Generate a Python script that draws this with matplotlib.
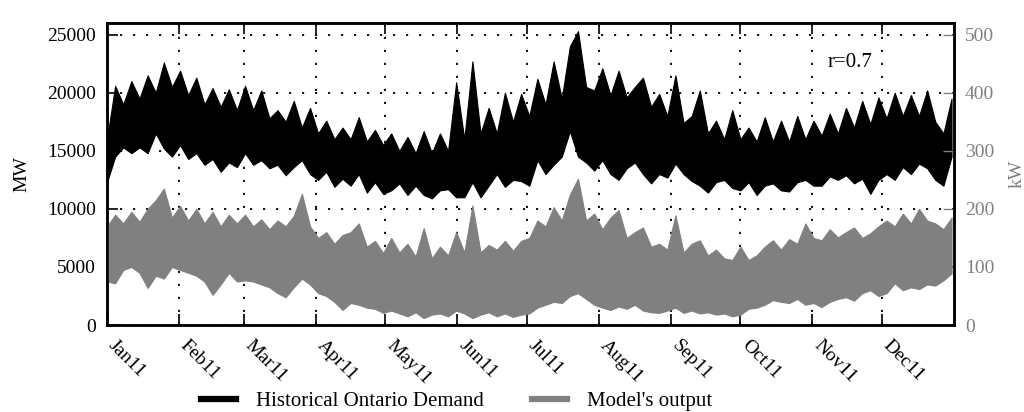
#!/usr/bin/env python
"""Ontario demand vs model output, 2011"""

import numpy as np
import pandas as pd
import matplotlib
matplotlib.use('Agg')
import matplotlib.pyplot as plt
import matplotlib.dates as mdates
import matplotlib.transforms as mtransforms
from matplotlib.lines import Line2D

plt.rcParams['font.family'] = ['Liberation Serif', 'DejaVu Serif']

# samples every 3.5 days through 2011 (one line per month)
times = pd.date_range('2011-01-01', periods=105, freq='84h')

# Historical Ontario demand, upper / lower envelope (MW)
demand_hi = [
    16000, 20600, 19000, 21000, 19500, 21500, 20000, 22600, 20500,
    21900, 19800, 21300, 19000, 20400, 18800, 20300, 18500,
    20600, 18500, 20200, 17800, 18500, 17500, 19300, 17000, 18700,
    16500, 17600, 16000, 17000, 16000, 17900, 15800, 16800, 15500,
    16500, 15000, 16200, 14800, 16700, 14800, 16500, 15000, 20900,
    16000, 22700, 16500, 18700, 16500, 20000, 17500, 19900,
    18000, 21200, 19000, 22700, 19500, 24000, 25300, 20500, 20200,
    22100, 19800, 21900, 19600, 20500, 21300, 18800, 19900, 18000,
    21500, 17400, 18000, 20200, 16500, 17600, 16000, 18500, 16000,
    17000, 15800, 17900, 15800, 17600, 15800, 18000, 16000,
    17600, 16300, 18200, 16500, 18700, 17000, 19300, 17300, 19600,
    17800, 20000, 18000, 19800, 18000, 20200, 17500, 16500, 19500,
]
demand_lo = [
    12300, 14500, 15300, 14800, 15300, 14800, 16500, 15200, 14500,
    15500, 14300, 14800, 13800, 14300, 13200, 14000, 13600,
    14800, 13800, 14200, 13500, 13800, 12900, 13600, 14200, 13000,
    12500, 13200, 11900, 12600, 12000, 13000, 11400, 12300, 11300,
    11600, 12200, 11200, 12000, 11200, 10900, 11600, 11700, 11000,
    11000, 12300, 11000, 12000, 13000, 11900, 12500, 12400,
    12000, 14200, 13000, 13800, 14500, 16700, 14500, 14000, 13300,
    14200, 13000, 12500, 13500, 14000, 13000, 12200, 13000, 12700,
    13900, 13000, 12400, 12000, 11400, 12300, 12500, 11800, 11600,
    12300, 11200, 12000, 12200, 11600, 11500, 12300, 12500,
    12000, 12000, 12800, 12500, 12900, 12200, 12600, 11300, 12500,
    13000, 12500, 13600, 13000, 13900, 13500, 12500, 12000, 14500,
]

# Model's output, upper / lower envelope (kW)
model_hi = [
    170, 190, 175, 195, 178, 200, 215, 235, 185,
    205, 180, 200, 175, 195, 170, 190, 175,
    190, 170, 182, 165, 180, 170, 188, 226, 170,
    150, 160, 140, 155, 160, 175, 135, 145, 124,
    150, 125, 140, 118, 167, 115, 135, 120, 160,
    125, 206, 125, 138, 130, 145, 128, 145,
    150, 180, 170, 203, 180, 225, 252, 180, 192,
    165, 185, 198, 150, 160, 168, 135, 140, 130,
    189, 125, 140, 146, 120, 130, 115, 112, 135,
    112, 120, 135, 146, 130, 148, 140, 175,
    150, 146, 165, 151, 160, 168, 150, 158, 170,
    180, 170, 192, 175, 200, 180, 175, 165, 185,
]
model_lo = [
    75, 72, 95, 100, 90, 64, 85, 80, 100,
    95, 90, 85, 75, 52, 70, 90, 75,
    77, 75, 70, 65, 55, 48, 65, 80, 70,
    55, 50, 40, 26, 38, 35, 30, 28, 21,
    25, 20, 15, 22, 12, 18, 20, 15, 25,
    20, 12, 18, 22, 15, 20, 14, 18,
    20, 30, 35, 40, 38, 50, 55, 45, 35,
    30, 26, 32, 28, 35, 25, 22, 21, 25,
    30, 21, 25, 20, 22, 18, 20, 15, 18,
    28, 30, 35, 43, 40, 38, 45, 35,
    38, 31, 40, 45, 48, 42, 55, 60, 50,
    55, 72, 60, 65, 62, 70, 68, 77, 89,
]

month_ticks = pd.date_range('2011-01-01', '2011-12-01', freq='MS')

grey = '#808080'
dots = (0, (1.2, 6))

fig = plt.figure(figsize=(10.24, 4.12), dpi=100)
ax = fig.add_axes([0.1045, 0.211, 0.827, 0.733])
ax2 = ax.twinx()

ax.fill_between(times, demand_lo, demand_hi, color='black', lw=0.8)
ax2.fill_between(times, model_lo, model_hi, color=grey, lw=0.8)

ax.set_xlim(pd.Timestamp('2011-01-01'), pd.Timestamp('2012-01-01'))
ax.set_ylim(0, 26000)
ax2.set_ylim(0, 520)

ax.set_yticks(np.arange(0, 25001, 5000))
ax2.set_yticks(np.arange(0, 501, 100))
ax.set_xticks(month_ticks)
ax.xaxis.set_major_formatter(mdates.DateFormatter('%b%y'))

ax.grid(True, color='black', linestyle=dots, lw=1.3)
ax.tick_params(axis='both', direction='in', length=8, width=1.2,
               labelsize=14, top=True)
ax.tick_params(axis='y', pad=8)
ax.tick_params(axis='x', pad=13)
ax2.tick_params(axis='y', direction='in', length=8, width=1.0,
                colors=grey, labelsize=14, pad=8)

shift = mtransforms.ScaledTranslation(0.04, 0, fig.dpi_scale_trans)
for lbl in ax.get_xticklabels():
    lbl.set_rotation(-45)
    lbl.set_ha('left')
    lbl.set_va('center')
    lbl.set_rotation_mode('anchor')
    lbl.set_transform(lbl.get_transform() + shift)

for a in (ax, ax2):
    for sp in a.spines.values():
        sp.set_linewidth(1.8)
        sp.set_color('black')

ax.set_ylabel('MW', fontsize=14, labelpad=12)
ax2.set_ylabel('kW', fontsize=14, color=grey, labelpad=10)

ax.text(0.851, 0.871, 'r=0.7', transform=ax.transAxes, fontsize=15,
        ha='left', va='center')

handles = [Line2D([], [], color='black', lw=4.5),
           Line2D([], [], color=grey, lw=4.5)]
fig.legend(handles, ['Historical Ontario Demand', "Model's output"],
           loc='center', bbox_to_anchor=(0.446, 0.026), ncol=2,
           frameon=False, fontsize=15, handlelength=1.7,
           handletextpad=0.95, columnspacing=2.3)

plt.savefig('out.png', dpi=100)
